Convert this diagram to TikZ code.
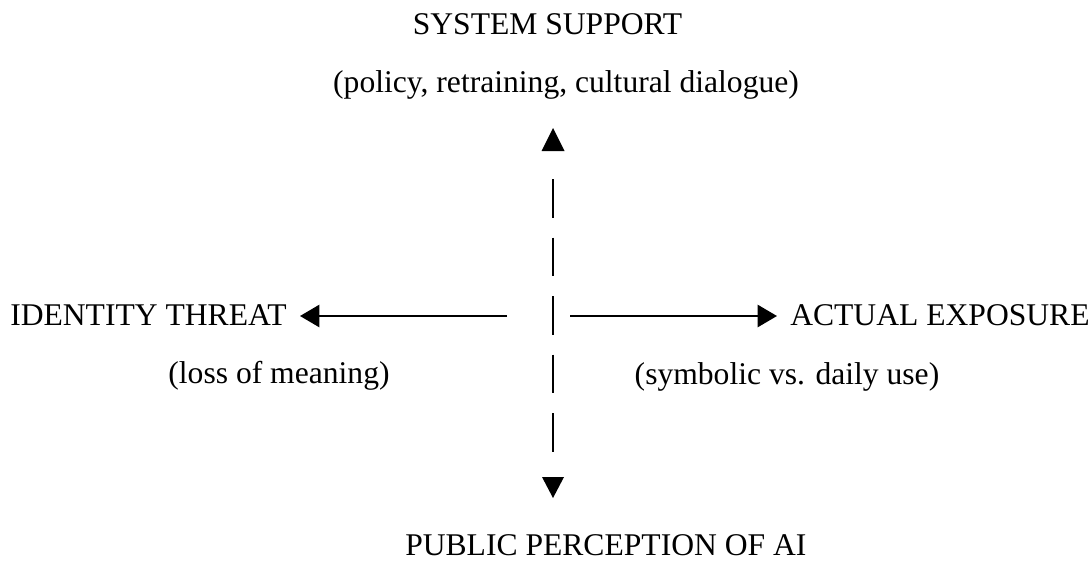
\documentclass[tikz,border=0pt]{standalone}
\usepackage{fontspec}
\setmainfont{Liberation Serif}
\usetikzlibrary{arrows.meta,calc}
\tikzset{
  lbl/.style={inner sep=0pt, font=\fontsize{23.7pt}{28pt}\selectfont},
  harrow/.style={line width=1.9pt, -{Triangle[length=14.5pt,width=16.5pt]}},
  vdash/.style={line width=2.1pt, dash pattern=on 28.9pt off 15pt},
  tipfill/.style={fill=black}
}
\begin{document}
\begin{tikzpicture}[x=0.75pt,y=-0.75pt]
\useasboundingbox (0,0) rectangle (1092,561);
% labels
\node[lbl, anchor=base] (sys) at (547.5,34) {SYSTEM SUPPORT};
\node[lbl, anchor=base] (sysd) at (566,92) {(policy, retraining, cultural dialogue)};
\node[lbl, anchor=base west] (idt) at (10,325) {IDENTITY THREAT};
\node[lbl, anchor=base] (idtd) at (279,383) {(loss of meaning)};
\node[lbl, anchor=base west] (act) at (790,325) {ACTUAL EXPOSURE};
\node[lbl, anchor=base] (actd) at (787,384) {(symbolic vs. daily use)};
\node[lbl, anchor=base west] (pub) at (405,555) {PUBLIC PERCEPTION OF AI};
% axis points
\coordinate (c) at (552,316);
\coordinate (lstart) at (507,316);
\coordinate (rstart) at (570,316);
\coordinate (uptip) at (553,128);
\coordinate (downtip) at (553,498);
% horizontal arrows
\draw[harrow] (lstart) -- ($(idt.east |- c)+(13,0)$);
\draw[harrow] (rstart) -- ($(act.west |- c)+(-13,0)$);
% vertical dashed axis
\draw[vdash, shorten <=38.25pt, shorten >=34.5pt] (uptip) -- (downtip);
\fill[tipfill] (uptip) -- ++(-11.5,23) -- ++(23,0) -- cycle;
\fill[tipfill] (downtip) -- ++(-11,-21) -- ++(22,0) -- cycle;
\end{tikzpicture}
\end{document}
